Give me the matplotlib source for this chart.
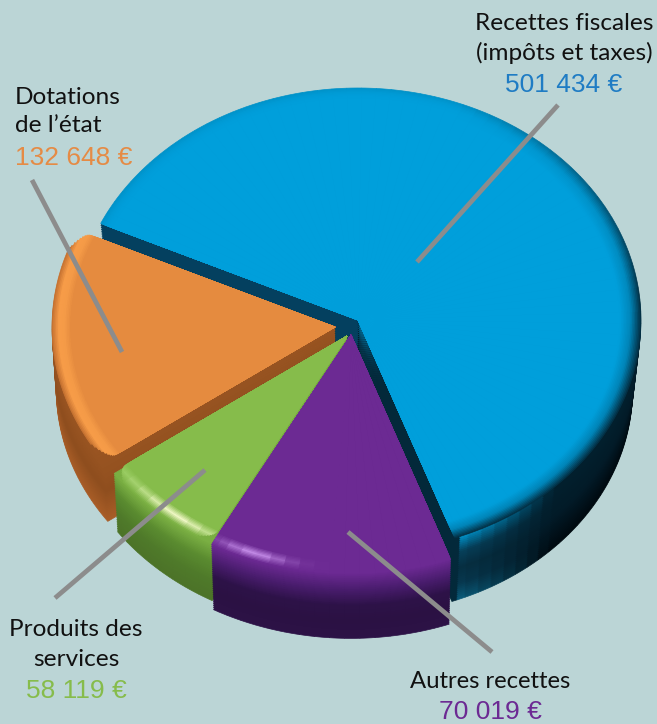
import numpy as np
import matplotlib
matplotlib.use("Agg")
import matplotlib.pyplot as plt
from matplotlib.colors import to_rgb
from matplotlib.patches import Wedge

## data
categories = ['Recettes fiscales', 'Dotations', 'Produits des services', 'Autres recettes']
amount_labels = ['501 434 €', '132 648 €', '58 119 €', '70 019 €']
# slice sizes as drawn, in degrees (the drawing is not to scale with the amounts)
slice_degrees = [225.4, 60.0, 26.0, 48.6]
start_angle = -70.0

W, H = 657, 724
SQUASH = 232 / 283  # tilt of the pie
BG = '#BBD5D6'


def py(y):
    return (H - y) / SQUASH


def mix(a, b, f):
    f = min(max(f, 0), 1)
    a, b = np.array(to_rgb(a)), np.array(to_rgb(b))
    return tuple(a + (b - a) * f)


def ramp(stops, t):
    # stops: list of colours spread evenly on 0..1
    t = min(max(t, 0), 1) * (len(stops) - 1)
    i = min(int(t), len(stops) - 2)
    return mix(stops[i], stops[i + 1], t - i)


def wedge(ax, cx, cy, r, t1, t2, col):
    ax.add_patch(Wedge((cx, py(cy)), r, t1, t2, facecolor=col, edgecolor=col, lw=0.5))


def draw_slice(ax, t1, t2, apex, r, depth, wall_col, rim_col, step=3, layers=34, bevel=0.11,
               shrink=0.015, corner=5.0, wall_corner=0.0):
    angles = np.linspace(t1, t2, max(int((t2 - t1) / step), 2) + 1)
    angles = np.unique(np.append(angles, t1 + 1.2))
    # side wall, bottom layer first
    for i in range(layers, 0, -1):
        t = i / layers
        ins = wall_corner * max(1 - t / 0.3, 0) ** 2
        for a, b in zip(angles[:-1], angles[1:]):
            a2, b2 = max(a, t1 + ins), min(b, t2 - ins)
            if b2 > a2:
                wedge(ax, apex[0], apex[1] + depth * t, r * (1 - shrink * t), a2, b2,
                      wall_col((a + b) / 2, t))
    # top face, outer ring first, cut back a little so the corners look round
    for i in range(20, -1, -1):
        u = i / 20
        ins = corner * max((u - 0.55) / 0.45, 0) ** 2
        for a, b in zip(angles[:-1], angles[1:]):
            a2, b2 = max(a, t1 + ins), min(b, t2 - ins)
            if b2 > a2:
                wedge(ax, apex[0], apex[1], r * (1 - bevel * (1 - u)), a2, b2,
                      rim_col((a + b) / 2, u))


## colour rules for each slice
def blue_wall(th, t):
    if th > 90:
        return '#04405F'
    if th < -68.8:
        return '#03293A'
    front = ramp(['#0094CC', '#06405A', '#062F42', '#07384F', '#0A5A78'], t)
    side = ramp(['#02202E', '#021B28', '#000A10'], t)
    return mix(front, side, (th + 68) / 22)


def blue_rim(th, u):
    s = 1 - (th + 5) / 75 if th > -5 else 1
    s = max(s, 0.0)
    c = ramp(['#009FDB', '#009FDB', '#0085B8', '#033247'], u)
    return mix('#009FDB', c, s + 0.12 * u ** 4)


def orange_wall(th, t):
    return ramp(['#9A5522', '#8F4E1E', '#A85D27'], t)


def orange_rim(th, u):
    return ramp(['#E58B3F', '#E58B3F', '#E58B3F', '#F49A47', '#F79C48', '#C87432'], u)


def green_wall(th, t):
    return ramp(['#7DB245', '#5B8C30', '#4F7A2A', '#4C7328'], t)


def green_rim(th, u):
    hi = np.exp(-((th - 232) / 9) ** 2)
    c = mix('#93C95A', '#F2F9C8', hi)
    return ramp(['#86BC4B', '#86BC4B', '#86BC4B', c, '#80B548'], u)


def purple_wall(th, t):
    return ramp(['#6C2A93', '#4A1D6E', '#2D1248', '#2B1143', '#2C1246'], t)


def purple_rim(th, u):
    hi = np.exp(-((th - 250) / 7) ** 2)
    c = mix('#6C2A93', '#C48CE8', hi)
    return ramp(['#6C2A93', '#6C2A93', '#6C2A93', c, '#6C2A93'], u)


fig = plt.figure(figsize=(W / 100, H / 100), dpi=100, facecolor=BG)
ax = fig.add_axes([0, 0, 1, 1])
ax.set_xlim(0, W)
ax.set_ylim(0, H / SQUASH)
ax.axis('off')

edges = start_angle + np.cumsum([0] + slice_degrees)

# blue first, green sits on orange, purple on top
draw_slice(ax, edges[0], edges[1], (358, 320), 283, 70, blue_wall, blue_rim, shrink=0.03, corner=0)
draw_slice(ax, edges[1], edges[2], (335, 327), 283 * 1.0, 62, orange_wall, orange_rim, wall_corner=5.0)
draw_slice(ax, edges[2], edges[3], (347, 336), 283 * 1.01, 62, green_wall, green_rim, corner=3.0)
draw_slice(ax, edges[3], edges[4], (351, 335), 283 * 1.03, 68, purple_wall, purple_rim, corner=0)

## leader lines
leaders = [((558, 105), (417, 262)), ((32, 180), (122, 352)),
           ((205, 470), (55, 598)), ((348, 532), (492, 652))]
for (x0, y0), (x1, y1) in leaders:
    ax.plot([x0, x1], [py(y0), py(y1)], color='#8C8C8C', lw=3.4, solid_capstyle='butt')


## labels
def label(x, y, s, ha='center', color='#111111', fam='Lato', size=17.6):
    ax.text(x, py(y), s, ha=ha, va='center', color=color, family=fam, fontsize=size)


label(564, 23, 'Recettes fiscales')
label(564, 53, '(impôts et taxes)')
label(564, 85, amount_labels[0], color='#1F7CC4', fam='Liberation Sans', size=19)
label(15, 97, 'Dotations', ha='left')
label(15, 126, 'de l’état', ha='left')
label(15, 158, amount_labels[1], ha='left', color='#E58B45', fam='Liberation Sans', size=19)
label(76, 630, 'Produits des')
label(76, 659, 'services')
label(76, 691, amount_labels[2], color='#86BC4B', fam='Liberation Sans', size=19)
label(490, 681, 'Autres recettes', size=17.2)
label(490, 712, amount_labels[3], color='#6C2A93', fam='Liberation Sans', size=19)

fig.savefig('out.png', dpi=100, facecolor=BG)
